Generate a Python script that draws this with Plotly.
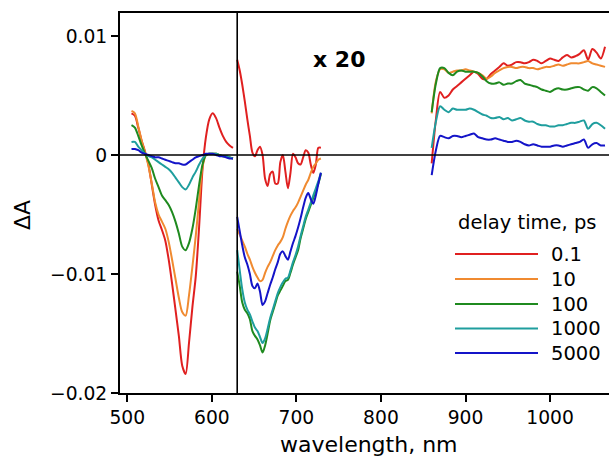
import plotly.graph_objects as go

# ---------------- data ----------------
series_names = ["0.1", "10", "100", "1000", "5000"]
series_colors = ["#e02020", "#f08a30", "#1f8a1f", "#1f9e9e", "#1414c8"]

# visible region (505-625 nm), ΔA as measured
vis_wl = [505, 509, 513, 517, 521, 525, 529, 533, 537, 541, 545, 549, 553, 557, 561,
          565, 569, 573, 577, 581, 585, 589, 593, 597, 601, 605, 609, 613, 617, 621, 625]
vis_01 = [0.0035, 0.0033, 0.0023, 0.0012, 0.0003, -0.0008, -0.0025, -0.0042, -0.0055, -0.0063,
          -0.0072, -0.0088, -0.0108, -0.0130, -0.0152, -0.0177, -0.0184, -0.0158, -0.0128, -0.0102,
          -0.0060, -0.0012, 0.0015, 0.0030, 0.0035, 0.0031, 0.0023, 0.0016, 0.0011, 0.0008, 0.0006]
vis_10 = [0.0037, 0.0035, 0.0024, 0.0012, 0.0002, -0.0009, -0.0024, -0.0040, -0.0050, -0.0056,
          -0.0062, -0.0073, -0.0088, -0.0104, -0.0120, -0.0132, -0.0135, -0.0118, -0.0094, -0.0068,
          -0.0038, -0.0010, 0.0000, 0.0001, 0.0001, 0.0001, 0.0000, -0.0001, -0.0001, -0.0002, -0.0003]
vis_100 = [0.0025, 0.0023, 0.0016, 0.0008, 0.0001, -0.0005, -0.0011, -0.0020, -0.0027, -0.0034,
           -0.0038, -0.0042, -0.0048, -0.0056, -0.0066, -0.0077, -0.0080, -0.0074, -0.0062, -0.0045,
           -0.0025, -0.0008, 0.0000, 0.0001, 0.0001, 0.0001, 0.0000, -0.0001, -0.0001, -0.0002, -0.0003]
vis_1000 = [0.0011, 0.0011, 0.0007, 0.0004, 0.0001, -0.0001, -0.0002, -0.0004, -0.0006, -0.0008,
            -0.0010, -0.0012, -0.0015, -0.0019, -0.0023, -0.0027, -0.0029, -0.0025, -0.0019, -0.0014,
            -0.0008, -0.0003, 0.0000, 0.0001, 0.0001, 0.0001, 0.0000, -0.0001, -0.0001, -0.0002, -0.0003]
vis_5000 = [0.0005, 0.0005, 0.0004, 0.0002, 0.0001, 0.0000, -0.0001, -0.0002, -0.0002, -0.0003,
            -0.0004, -0.0005, -0.0006, -0.0007, -0.0007, -0.0008, -0.0008, -0.0006, -0.0004, -0.0002,
            -0.0001, 0.0000, 0.0001, 0.0001, 0.0001, 0.0000, -0.0001, -0.0001, -0.0002, -0.0003, -0.0003]

# red region (630-729 nm), values shown multiplied by 20
x20_wl = [630, 633, 636, 639, 642, 645, 648, 651, 654, 657, 660, 663, 666, 669, 672, 675, 678,
          681, 684, 687, 690, 693, 696, 699, 702, 705, 708, 711, 714, 717, 720, 723, 726, 729]
x20_01 = [0.0080, 0.0071, 0.0059, 0.0045, 0.0030, 0.0016, 0.0002, -0.0001, 0.0004, 0.0007,
          0.0000, -0.0020, -0.0026, -0.0016, -0.0014, -0.0024, -0.0024, -0.0006, 0.0000, -0.0014,
          -0.0028, -0.0015, 0.0001, -0.0002, -0.0007, -0.0008, -0.0002, 0.0004, 0.0002, -0.0008,
          -0.0015, -0.0008, 0.0006, 0.0006]
x20_10 = [-0.0062, -0.0067, -0.0072, -0.0077, -0.0083, -0.0088, -0.0094, -0.0099, -0.0103, -0.0106,
          -0.0105, -0.0099, -0.0094, -0.0090, -0.0085, -0.0080, -0.0076, -0.0073, -0.0069, -0.0062,
          -0.0056, -0.0051, -0.0047, -0.0044, -0.0040, -0.0035, -0.0030, -0.0025, -0.0021, -0.0015,
          -0.0010, -0.0007, -0.0004, -0.0003]
x20_100 = [-0.0098, -0.0110, -0.0124, -0.0130, -0.0133, -0.0138, -0.0148, -0.0152, -0.0155, -0.0160,
           -0.0166, -0.0160, -0.0150, -0.0139, -0.0132, -0.0125, -0.0118, -0.0114, -0.0110, -0.0106,
           -0.0105, -0.0099, -0.0092, -0.0086, -0.0080, -0.0070, -0.0062, -0.0054, -0.0048, -0.0042,
           -0.0036, -0.0030, -0.0024, -0.0016]
x20_1000 = [-0.0080, -0.0097, -0.0113, -0.0124, -0.0130, -0.0134, -0.0140, -0.0145, -0.0148, -0.0153,
            -0.0158, -0.0154, -0.0146, -0.0137, -0.0130, -0.0123, -0.0116, -0.0111, -0.0107, -0.0104,
            -0.0103, -0.0097, -0.0090, -0.0084, -0.0077, -0.0068, -0.0060, -0.0052, -0.0046, -0.0040,
            -0.0034, -0.0028, -0.0022, -0.0015]
x20_5000 = [-0.0052, -0.0064, -0.0076, -0.0086, -0.0092, -0.0100, -0.0110, -0.0112, -0.0108, -0.0115,
            -0.0126, -0.0123, -0.0116, -0.0109, -0.0103, -0.0096, -0.0090, -0.0083, -0.0081, -0.0085,
            -0.0088, -0.0081, -0.0074, -0.0068, -0.0061, -0.0053, -0.0044, -0.0036, -0.0032, -0.0037,
            -0.0041, -0.0034, -0.0024, -0.0015]

# near-IR region (860-1065 nm)
nir_wl = [860, 865, 870, 875, 880, 885, 890, 895, 900, 905, 910, 915, 920, 925, 930, 935, 940,
          945, 950, 955, 960, 965, 970, 975, 980, 985, 990, 995, 1000, 1005, 1010, 1015, 1020,
          1025, 1030, 1035, 1040, 1045, 1050, 1055, 1060, 1065]
nir_01 = [-0.0007, 0.0030, 0.0053, 0.0048, 0.0050, 0.0055, 0.0058, 0.0061, 0.0064, 0.0067, 0.0070,
          0.0068, 0.0064, 0.0064, 0.0068, 0.0071, 0.0074, 0.0077, 0.0075, 0.0076, 0.0078, 0.0078,
          0.0077, 0.0078, 0.0080, 0.0079, 0.0077, 0.0079, 0.0081, 0.0080, 0.0079, 0.0082, 0.0084,
          0.0082, 0.0083, 0.0085, 0.0088, 0.0080, 0.0089, 0.0086, 0.0081, 0.0091]
nir_10 = [0.0035, 0.0062, 0.0072, 0.0072, 0.0069, 0.0070, 0.0071, 0.0071, 0.0072, 0.0071, 0.0070,
          0.0069, 0.0067, 0.0064, 0.0066, 0.0069, 0.0071, 0.0073, 0.0074, 0.0074, 0.0073, 0.0074,
          0.0074, 0.0073, 0.0073, 0.0072, 0.0073, 0.0074, 0.0074, 0.0075, 0.0076, 0.0075, 0.0076,
          0.0077, 0.0077, 0.0077, 0.0078, 0.0079, 0.0077, 0.0076, 0.0075, 0.0074]
nir_100 = [0.0036, 0.0060, 0.0073, 0.0073, 0.0069, 0.0067, 0.0070, 0.0071, 0.0070, 0.0070, 0.0070,
           0.0069, 0.0066, 0.0062, 0.0060, 0.0060, 0.0061, 0.0059, 0.0060, 0.0060, 0.0062, 0.0063,
           0.0060, 0.0059, 0.0058, 0.0057, 0.0055, 0.0054, 0.0053, 0.0055, 0.0056, 0.0055, 0.0055,
           0.0056, 0.0057, 0.0057, 0.0055, 0.0054, 0.0057, 0.0056, 0.0053, 0.0050]
nir_1000 = [0.0006, 0.0028, 0.0041, 0.0038, 0.0036, 0.0039, 0.0038, 0.0038, 0.0038, 0.0039, 0.0038,
            0.0036, 0.0034, 0.0033, 0.0031, 0.0031, 0.0032, 0.0030, 0.0031, 0.0029, 0.0030, 0.0031,
            0.0029, 0.0028, 0.0028, 0.0026, 0.0025, 0.0025, 0.0024, 0.0024, 0.0025, 0.0025, 0.0026,
            0.0027, 0.0027, 0.0028, 0.0029, 0.0022, 0.0026, 0.0027, 0.0025, 0.0022]
nir_5000 = [-0.0017, 0.0004, 0.0016, 0.0015, 0.0014, 0.0016, 0.0016, 0.0015, 0.0016, 0.0017, 0.0018,
            0.0015, 0.0014, 0.0013, 0.0013, 0.0014, 0.0013, 0.0012, 0.0011, 0.0011, 0.0012, 0.0011,
            0.0009, 0.0008, 0.0009, 0.0008, 0.0007, 0.0007, 0.0007, 0.0008, 0.0008, 0.0007, 0.0008,
            0.0009, 0.0010, 0.0011, 0.0013, 0.0006, 0.0009, 0.0010, 0.0008, 0.0008]

x_tick_vals = [500, 600, 700, 800, 900, 1000]
x_tick_text = ["500", "600", "700", "800", "900", "1000"]
y_tick_vals = [0.01, 0.0, -0.01, -0.02]
y_tick_text = ["0.01", "0", "\u22120.01", "\u22120.02"]
split_wl = 630

vis_sets = [vis_01, vis_10, vis_100, vis_1000, vis_5000]
x20_sets = [x20_01, x20_10, x20_100, x20_1000, x20_5000]
nir_sets = [nir_01, nir_10, nir_100, nir_1000, nir_5000]

# ---------------- layout geometry ----------------
W, H = 609, 463
ML, MR, MT, MB = 120, 0, 13, 70
PW, PH = W - ML - MR, H - MT - MB
FONT = "DejaVu Sans"
FS_TICK = 18.7
FS_LEG = 19.5
FS_LAB = 22


def px(x):
    return (x - ML) / PW


def py(y):
    return (H - MB - y) / PH


fig = go.Figure()
for k in range(5):
    for wl, vals in ((vis_wl, vis_sets[k]), (x20_wl, x20_sets[k]), (nir_wl, nir_sets[k])):
        fig.add_trace(go.Scatter(
            x=wl, y=vals, mode="lines", showlegend=False,
            line=dict(color=series_colors[k], width=2, shape="spline", smoothing=0.8),
            hoverinfo="skip"))

shapes = [
    dict(type="line", xref="paper", yref="y", x0=0, x1=1, y0=0, y1=0,
         line=dict(color="black", width=1.6), layer="above"),
    dict(type="line", xref="x", yref="paper", x0=split_wl, x1=split_wl, y0=0, y1=1,
         line=dict(color="black", width=1.6), layer="above"),
]
annotations = [
    dict(x=px(339), y=py(59), xref="paper", yref="paper", text="<b>x 20</b>", showarrow=False,
         font=dict(family=FONT, size=FS_LAB, color="black"), xanchor="center", yanchor="middle"),
    dict(x=px(456), y=py(222), xref="paper", yref="paper", text="delay time, ps",
         showarrow=False, xanchor="left", yanchor="middle",
         font=dict(family=FONT, size=FS_LEG, color="black")),
    dict(x=px(369), y=py(444), xref="paper", yref="paper", text="wavelength, nm",
         showarrow=False, xanchor="center", yanchor="middle",
         font=dict(family=FONT, size=FS_LAB, color="black")),
    dict(x=px(22), y=py(215), xref="paper", yref="paper", text="\u0394A", textangle=-90,
         showarrow=False, xanchor="center", yanchor="middle",
         font=dict(family=FONT, size=FS_LAB, color="black")),
]
row_y = [254, 279, 304, 328.5, 353]
for k in range(5):
    shapes.append(dict(type="line", xref="paper", yref="paper", x0=px(455), x1=px(538),
                       y0=py(row_y[k]), y1=py(row_y[k]),
                       line=dict(color=series_colors[k], width=2)))
    annotations.append(dict(x=px(549), y=py(row_y[k]), xref="paper", yref="paper",
                            text=series_names[k], showarrow=False, xanchor="left",
                            yanchor="middle", font=dict(family=FONT, size=FS_LEG, color="black")))

fig.update_layout(
    width=W, height=H, margin=dict(l=ML, r=MR, t=MT, b=MB, pad=0),
    paper_bgcolor="white", plot_bgcolor="white",
    font=dict(family=FONT, size=FS_TICK, color="black"),
    shapes=shapes, annotations=annotations, showlegend=False,
    xaxis=dict(range=[491.4, 1069.7], showgrid=False, zeroline=False,
               showline=True, linecolor="black", linewidth=2, mirror=True,
               ticks="outside", ticklen=7, tickwidth=1.5, tickcolor="black",
               tickvals=x_tick_vals, ticktext=x_tick_text,
               tickfont=dict(family=FONT, size=FS_TICK, color="black")),
    yaxis=dict(range=[-0.02, 0.01193], showgrid=False, zeroline=False,
               showline=True, linecolor="black", linewidth=2, mirror=False,
               ticks="outside", ticklen=7, tickwidth=1.5, tickcolor="black",
               tickvals=y_tick_vals, ticktext=y_tick_text,
               tickfont=dict(family=FONT, size=FS_TICK, color="black")),
)

fig.write_html("out.html")
